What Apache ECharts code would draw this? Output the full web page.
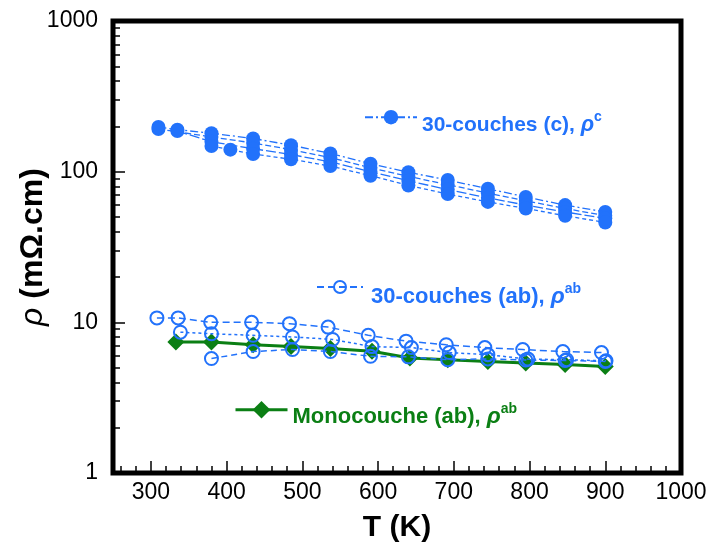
<!DOCTYPE html>
<html>
<head>
<meta charset="utf-8">
<script src="https://cdn.jsdelivr.net/npm/echarts@6/dist/echarts.min.js"></script>
<style>html,body{margin:0;padding:0;background:#fff}#c{width:710px;height:548px}</style>
</head>
<body>
<div id="c"></div>
<script>
// ---- data ----
const xTickLabels = [300, 400, 500, 600, 700, 800, 900, 1000];
const yTickLabels = [1, 10, 100, 1000];

const tC1 = [310, 335, 380, 435, 485, 537, 590, 640, 692, 745, 795, 847, 900];
const rC1 = [198, 190, 180, 166, 150, 132, 113, 99, 88, 77, 68, 60, 54];
const tC2 = [310, 380, 435, 485, 537, 590, 640, 692, 745, 795, 847, 900];
const rC2 = [192, 170, 155, 140, 124, 106, 93, 82, 72, 64, 57, 51];
const tC3 = [335, 380, 435, 485, 537, 590, 640, 692, 745, 795, 847, 900];
const rC3 = [186, 158, 142, 130, 116, 100, 87, 76, 67, 60, 54, 49];
const tC4 = [380, 405, 435, 485, 537, 590, 640, 692, 745, 795, 847, 900];
const rC4 = [148, 140, 131, 121, 109, 94, 81, 71, 63, 57, 51, 46];

const tAB1 = [308, 336, 379, 433, 483, 534, 587, 637, 690, 741, 791, 844, 895];
const rAB1 = [10.7, 10.7, 10.0, 10.0, 9.8, 9.3, 8.2, 7.5, 7.1, 6.8, 6.6, 6.4, 6.3];
const tAB2 = [339, 380, 435, 487, 540, 592, 644, 694, 745, 798, 849, 901];
const rAB2 = [8.6, 8.4, 8.2, 8.0, 7.7, 6.9, 6.8, 6.3, 6.1, 5.7, 5.65, 5.55];
const tAB3 = [380, 435, 487, 537, 590, 640, 692, 745, 795, 847, 900];
const rAB3 = [5.75, 6.4, 6.6, 6.4, 5.95, 5.9, 5.65, 5.72, 5.62, 5.58, 5.5];

const tMono = [333, 380, 435, 485, 537, 592, 642, 692, 745, 795, 847, 900];
const rMono = [7.4, 7.4, 7.1, 6.9, 6.7, 6.42, 5.8, 5.65, 5.5, 5.38, 5.24, 5.1];

// ---- build ----
const zip = (t, r) => t.map((x, i) => [x, r[i]]);
const blue = '#2272fb';
const green = '#0b7f14';
const FF = 'Liberation Sans, Arial, sans-serif';

const yMinor = [];
[1, 10, 100].forEach(d => { for (let k = 2; k <= 9; k++) yMinor.push(d * k); });
const xMinor = [];
for (let v = 260; v < 1000; v += 20) if (v % 100 !== 0) xMinor.push(v);

function cSeries(name, t, r, dash) {
  return {
    name, type: 'line', data: zip(t, r), xAxisIndex: 0, yAxisIndex: 0,
    symbol: 'circle', symbolSize: 14, z: 3,
    itemStyle: { color: blue },
    lineStyle: { color: blue, width: 1.3, type: dash },
    emphasis: { disabled: true }, animation: false
  };
}
function abSeries(name, t, r, dash) {
  return {
    name, type: 'line', data: zip(t, r), xAxisIndex: 0, yAxisIndex: 0,
    symbol: 'circle', symbolSize: 13, z: 5,
    itemStyle: { color: 'rgba(255,255,255,0)', borderColor: blue, borderWidth: 2 },
    lineStyle: { color: blue, width: 1.5, type: dash },
    emphasis: { disabled: true }, animation: false
  };
}

function richFor(color, size) {
  return {
    t: { fontSize: size, fontWeight: 'bold', color, fontFamily: FF, lineHeight: 26, verticalAlign: 'bottom' },
    r: { fontSize: size + 1, fontWeight: 'bold', fontStyle: 'italic', color, fontFamily: FF, lineHeight: 26, verticalAlign: 'bottom' },
    s: { fontSize: 14, fontWeight: 'bold', color, fontFamily: FF, lineHeight: 14, verticalAlign: 'top' }
  };
}

const chart = echarts.init(document.getElementById('c'), null, { renderer: 'canvas' });
chart.setOption({
  animation: false,
  backgroundColor: '#fff',
  grid: { left: 113, right: 29, top: 21, bottom: 75, show: true, borderColor: '#000', borderWidth: 5, backgroundColor: 'transparent' },
  legend: [
    { data: ['30-couches (c)'], left: 364, top: 110, padding: 0, itemWidth: 52, itemHeight: 18,
      formatter: () => '{t|30-couches (c), }{r|ρ}{s|c}', textStyle: { padding: [12, 0, 0, 0], rich: richFor(blue, 21) } },
    { data: ['30-couches (ab)'], left: 316, top: 280, padding: 0, itemWidth: 46, itemHeight: 15, itemGap: 0,
      formatter: () => '{t|30-couches (ab), }{r|ρ}{s|ab}', textStyle: { padding: [16, 0, 0, 3], rich: richFor(blue, 22) } },
    { data: ['Monocouche (ab)'], left: 234, top: 401, padding: 0, itemWidth: 52, itemHeight: 22,
      lineStyle: { width: 3 },
      formatter: () => '{t|Monocouche (ab), }{r|ρ}{s|ab}', textStyle: { padding: [10, 0, 0, 0], rich: richFor(green, 22) } }
  ],
  xAxis: [
    {
      type: 'value', min: 250, max: 1000, position: 'bottom',
      name: 'T (K)', nameLocation: 'middle', nameGap: 40, nameMoveOverlap: false,
      nameTextStyle: { fontSize: 30, fontWeight: 'bold', color: '#000', fontFamily: FF },
      axisLine: { show: false },
      axisTick: { show: true, inside: true, length: 12, customValues: xTickLabels, lineStyle: { color: '#000', width: 1.5 } },
      axisLabel: { show: true, customValues: xTickLabels, fontSize: 23, color: '#000', margin: 8, fontFamily: FF, formatter: v => String(v) },
      splitLine: { show: false }
    },
    {
      type: 'value', min: 250, max: 1000, position: 'bottom', gridIndex: 0,
      axisLine: { show: false },
      axisTick: { show: true, inside: true, length: 7, customValues: xMinor, lineStyle: { color: '#000', width: 1.5 } },
      axisLabel: { show: false },
      splitLine: { show: false }
    }
  ],
  yAxis: [
    {
      type: 'log', logBase: 10, min: 1, max: 1000, position: 'left',
      name: '{i|ρ} (mΩ.cm)', nameLocation: 'middle', nameGap: 64, nameRotate: 90, nameMoveOverlap: false,
      nameTextStyle: { fontSize: 32, fontWeight: 'bold', color: '#000', fontFamily: FF,
        rich: { i: { fontSize: 32, fontWeight: 'normal', fontStyle: 'italic', color: '#000', fontFamily: FF } } },
      axisLine: { show: false },
      axisTick: { show: true, inside: true, length: 12, customValues: yTickLabels, lineStyle: { color: '#000', width: 1.5 } },
      axisLabel: { show: true, customValues: yTickLabels, fontSize: 23, color: '#000', margin: 15, fontFamily: FF, formatter: v => String(v) },
      splitLine: { show: false }, minorTick: { show: false }
    },
    {
      type: 'log', logBase: 10, min: 1, max: 1000, position: 'left', gridIndex: 0,
      axisLine: { show: false },
      axisTick: { show: true, inside: true, length: 7, customValues: yMinor, lineStyle: { color: '#000', width: 1.5 } },
      axisLabel: { show: false },
      splitLine: { show: false }
    }
  ],
  series: [
    cSeries('30-couches (c)', tC1, rC1, [8, 3, 2, 3]),
    cSeries('c2', tC2, rC2, [6, 3]),
    cSeries('c3', tC3, rC3, [10, 3]),
    cSeries('c4', tC4, rC4, [4, 3]),
    {
      name: 'Monocouche (ab)', type: 'line', data: zip(tMono, rMono),
      symbol: 'diamond', symbolSize: 17, z: 4,
      itemStyle: { color: green }, lineStyle: { color: green, width: 3, type: 'solid' },
      emphasis: { disabled: true }, animation: false
    },
    abSeries('30-couches (ab)', tAB1, rAB1, [7, 4]),
    abSeries('ab2', tAB2, rAB2, [3, 3]),
    abSeries('ab3', tAB3, rAB3, [6, 4])
  ]
});
</script>
</body>
</html>
